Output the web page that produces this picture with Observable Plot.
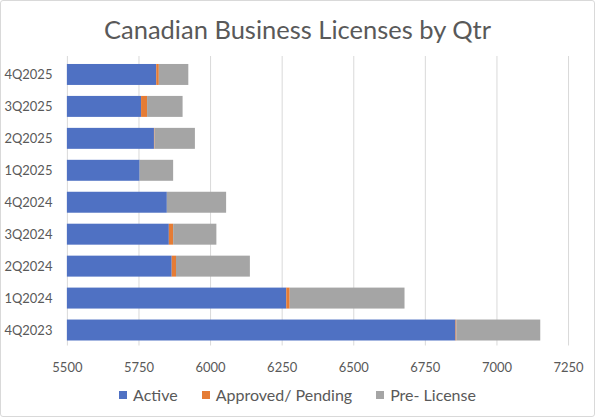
<!DOCTYPE html>
<html>
<head>
<meta charset="utf-8">
<script src="https://cdn.jsdelivr.net/npm/d3@7"></script>
<script src="https://cdn.jsdelivr.net/npm/@observablehq/plot@0.6"></script>
<style>
  html, body { margin: 0; padding: 0; background: #fff; }
  #chart {
    position: relative; width: 593px; height: 415px;
    border: 1px solid #d9d9d9; border-radius: 3px; overflow: hidden;
    font-family: Lato, "Open Sans", sans-serif; color: #595959; background: #fff;
  }
  #title {
    position: absolute; left: 0; top: 13px; width: 100%; text-align: center;
    font-size: 25.5px; line-height: 30px; color: #595959;
  }
  #plot { position: absolute; left: -1px; top: 49px; }
  #legend {
    position: absolute; left: 0; top: 384px; width: 100%;
    display: flex; justify-content: center; gap: 24px;
    font-size: 16px; line-height: 20px; color: #595959;
  }
  #legend span.item { display: flex; align-items: center; }
  #legend span.sw { display: inline-block; width: 8px; height: 8px; margin-right: 6px; }
</style>
</head>
<body>
<div id="chart">
  <div id="title">Canadian Business Licenses by Qtr</div>
  <div id="plot"></div>
  <div id="legend"></div>
</div>
<script>
const quarters = ["4Q2025","3Q2025","2Q2025","1Q2025","4Q2024","3Q2024","2Q2024","1Q2024","4Q2023"];
const active   = [5812, 5759, 5804, 5754, 5849, 5856, 5866, 6266, 6857];
const approved = [9, 21, 2, 0, 0, 15, 15, 12, 3];
const preLicense = [103, 124, 141, 117, 207, 151, 258, 401, 293];
const seriesNames = ["Active", "Approved/ Pending", "Pre- License"];
const seriesColors = ["#4F71C3", "#E57C35", "#A5A5A5"];
const xTicks = [5500, 5750, 6000, 6250, 6500, 6750, 7000, 7250];

const seriesValues = [active, approved, preLicense];
const rows = [];
quarters.forEach((q, i) => {
  seriesNames.forEach((s, j) => rows.push({quarter: q, series: s, value: seriesValues[j][i]}));
});

const plot = Plot.plot({
  width: 595,
  height: 330,
  marginLeft: 67,
  marginRight: 26,
  marginTop: 6,
  marginBottom: 30,
  style: {fontFamily: "Lato, 'Open Sans', sans-serif", fontSize: "13px", color: "#595959", background: "transparent"},
  x: {domain: [5500, 7250], ticks: xTicks},
  y: {domain: quarters, paddingInner: 0.33, paddingOuter: 0.165},
  color: {domain: seriesNames, range: seriesColors},
  marks: [
    Plot.ruleX(xTicks, {stroke: "#d9d9d9", insetBottom: 4}),
    Plot.barX(rows, Plot.stackX({
      y: "quarter", x: "value", fill: "series",
      order: seriesNames, clip: true
    })),
    Plot.axisX({ticks: xTicks, tickSize: 0, tickPadding: 13, label: null, fontSize: 13, tickFormat: d => String(d)}),
    Plot.axisY({tickSize: 0, tickPadding: 15, label: null, fontSize: 13})
  ]
});
document.getElementById("plot").appendChild(plot);

const legend = document.getElementById("legend");
seriesNames.forEach((s, i) => {
  const item = document.createElement("span");
  item.className = "item";
  const sw = document.createElement("span");
  sw.className = "sw";
  sw.style.background = seriesColors[i];
  item.appendChild(sw);
  item.appendChild(document.createTextNode(s));
  legend.appendChild(item);
});
</script>
</body>
</html>
